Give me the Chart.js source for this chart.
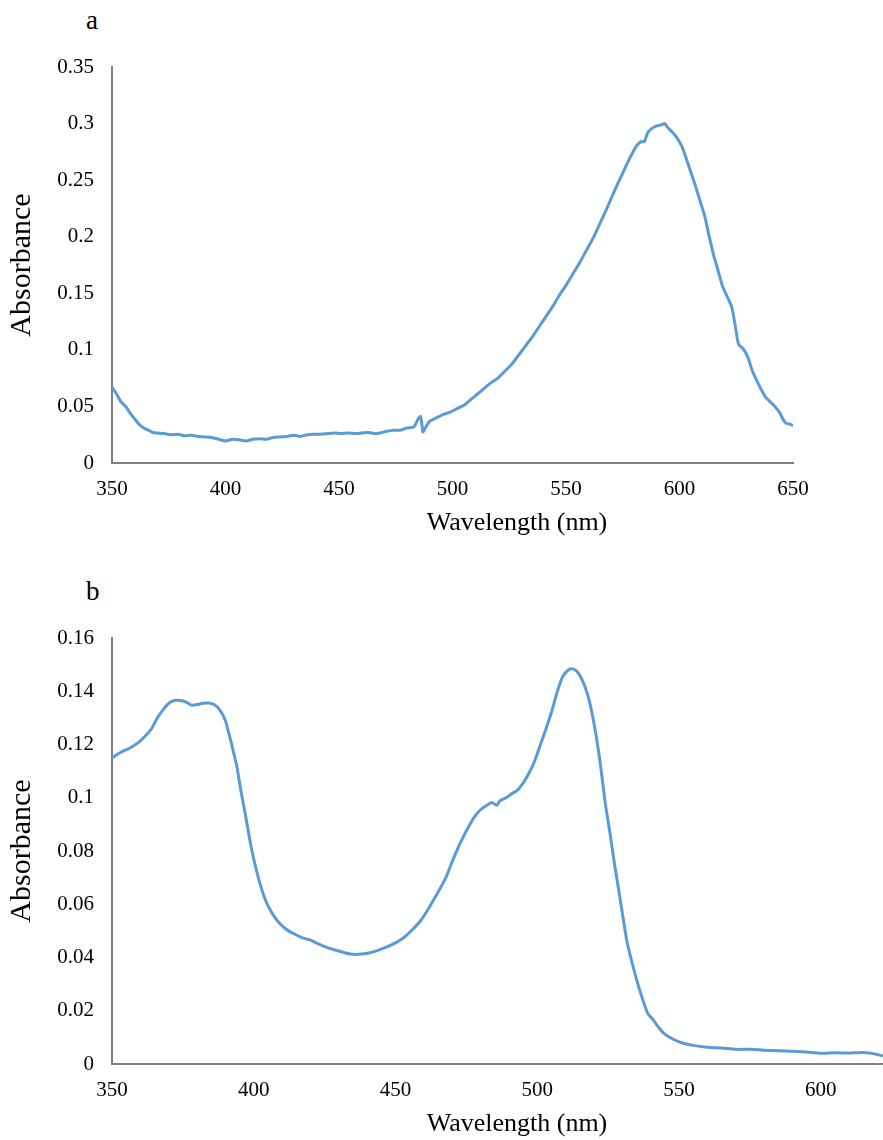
<!DOCTYPE html>
<html>
<head>
<meta charset="utf-8">
<script src="https://cdn.jsdelivr.net/npm/chart.js@4.4.1/dist/chart.umd.min.js"></script>
<style>
  body { margin: 0; width: 883px; height: 1140px; overflow: hidden; background: #fff; font-family: 'Liberation Serif', serif; }
  .panel-label { position: absolute; left: 86px; font-size: 27px; line-height: 27px; color: #000; }
  canvas { position: absolute; left: 0; }
</style>
</head>
<body>
<div class="panel-label" style="top: 7px;">a</div>
<div class="panel-label" style="top: 578px;">b</div>
<canvas id="chartA" width="883" height="541" style="top: 0px;"></canvas>
<canvas id="chartB" width="883" height="572" style="top: 570px;"></canvas>
<script>
// Spectrum a
const wavelengthA = [350, 352, 354, 356, 358, 360, 362, 364, 366, 368, 370, 373, 376, 379, 382, 385, 388, 391, 394, 397,
  400, 403, 406, 409, 412, 415, 418, 421, 424, 427, 430, 433, 436, 439, 442, 445, 448, 451, 454, 457,
  460, 463, 466, 468, 471, 474, 477, 480, 483, 485, 486, 487, 488, 490, 493, 496, 499, 502, 505, 508,
  511, 514, 517, 520, 523, 526, 529, 532, 535, 538, 541, 544, 547, 550, 553, 556, 559, 562, 565, 568,
  571, 574, 577, 579, 581, 583, 584.5, 586, 588, 590, 592, 593.5, 595, 597, 599, 601, 603, 605, 607, 609,
  611, 613, 615, 617, 619, 621, 623, 624.5, 626, 628, 630, 632, 634, 636, 638, 640, 642, 644, 645.5, 647,
  648.5, 650];
const absorbanceA = [0.067, 0.061, 0.054, 0.050, 0.044, 0.039, 0.034, 0.031, 0.029, 0.027, 0.0265, 0.026, 0.025, 0.0255, 0.024, 0.0245, 0.0235, 0.023, 0.0225, 0.021,
  0.0195, 0.021, 0.0205, 0.0195, 0.021, 0.0215, 0.021, 0.0225, 0.023, 0.0235, 0.0245, 0.0235, 0.025, 0.0255, 0.0255, 0.026, 0.0265, 0.026, 0.0265, 0.026,
  0.0265, 0.027, 0.026, 0.0265, 0.028, 0.029, 0.029, 0.031, 0.032, 0.0395, 0.041, 0.0275, 0.031, 0.037, 0.040, 0.043, 0.045, 0.048, 0.051, 0.056,
  0.061, 0.066, 0.071, 0.075, 0.081, 0.087, 0.095, 0.103, 0.111, 0.120, 0.129, 0.138, 0.148, 0.157, 0.167, 0.177, 0.188, 0.199, 0.212, 0.225,
  0.239, 0.252, 0.265, 0.273, 0.280, 0.284, 0.284, 0.292, 0.296, 0.298, 0.299, 0.300, 0.296, 0.292, 0.287, 0.280, 0.269, 0.257, 0.245, 0.232,
  0.219, 0.201, 0.184, 0.170, 0.156, 0.147, 0.138, 0.122, 0.105, 0.101, 0.094, 0.082, 0.073, 0.065, 0.058, 0.054, 0.050, 0.045, 0.039, 0.035,
  0.0345, 0.033];
const xTicksA = [350, 400, 450, 500, 550, 600, 650];
const yTicksA = [0, 0.05, 0.1, 0.15, 0.2, 0.25, 0.3, 0.35];

// Spectrum b
const wavelengthB = [350, 353, 356, 359, 362, 364, 366, 368, 370, 372, 374, 376, 378, 380, 382, 384, 386, 388, 390, 391,
  392, 393, 394, 395.5, 397, 399, 401, 403, 405, 408, 411, 414, 417, 420, 423, 426, 429, 432, 435, 438,
  441, 444, 447, 450, 453, 456, 459, 462, 465, 468, 470, 472, 474, 476, 478, 480, 482, 484, 485.7, 487,
  489, 491, 493, 495, 497, 499, 501, 503, 505, 507, 509, 511, 512.5, 514, 516, 518, 519.5, 521, 522.5, 524,
  525.5, 527, 528.5, 530, 531.5, 533, 535, 537, 539, 541, 543, 545, 548, 551, 555, 560, 565, 570, 575, 580,
  585, 590, 595, 600, 605, 610, 615, 620, 622];
const absorbanceB = [0.115, 0.117, 0.1185, 0.1205, 0.1235, 0.126, 0.130, 0.133, 0.1355, 0.1365, 0.1365, 0.136, 0.1348, 0.135, 0.1355, 0.1356, 0.135, 0.133, 0.129, 0.125,
  0.121, 0.1165, 0.112, 0.1025, 0.094, 0.082, 0.0725, 0.065, 0.0595, 0.0542, 0.051, 0.049, 0.0475, 0.0465, 0.045, 0.0437, 0.0427, 0.0418, 0.0412, 0.0413,
  0.0418, 0.0428, 0.044, 0.0455, 0.0475, 0.0505, 0.054, 0.059, 0.0645, 0.0705, 0.076, 0.081, 0.0855, 0.0895, 0.093, 0.0955, 0.097, 0.0982, 0.0972, 0.099,
  0.100, 0.1015, 0.1028, 0.1055, 0.109, 0.1135, 0.1195, 0.1255, 0.132, 0.1395, 0.1455, 0.148, 0.1484, 0.1475, 0.144, 0.138, 0.131, 0.122, 0.111, 0.098,
  0.088, 0.077, 0.067, 0.057, 0.047, 0.040, 0.032, 0.025, 0.019, 0.0165, 0.0135, 0.0112, 0.0093, 0.008, 0.007, 0.0063, 0.006, 0.0055, 0.0055, 0.0052,
  0.005, 0.0048, 0.0045, 0.004, 0.0042, 0.0041, 0.0043, 0.0036, 0.003];
const xTicksB = [350, 400, 450, 500, 550, 600];
const yTicksB = [0, 0.02, 0.04, 0.06, 0.08, 0.1, 0.12, 0.14, 0.16];

const fontFamily = "'Liberation Serif', 'Times New Roman', serif";
const lineColor = '#5b9bd5';
const axisColor = '#808080';

// x title sits right of the axis centre in the original, so draw it by hand
const xTitlePlugin = {
  id: 'xTitle',
  afterDraw(chart, args, opts) {
    const { ctx, chartArea } = chart;
    ctx.save();
    ctx.font = '26px ' + fontFamily;
    ctx.fillStyle = '#000';
    ctx.textAlign = 'center';
    ctx.textBaseline = 'middle';
    ctx.fillText(opts.text, chartArea.left + 405, chartArea.bottom + 60);
    ctx.restore();
  }
};

function makeSpectrum(canvasId, wl, abs, xTicks, yTicks, xMax, padTop, padRight) {
  const ctx = document.getElementById(canvasId).getContext('2d');
  return new Chart(ctx, {
    type: 'line',
    data: {
      datasets: [{
        data: wl.map((w, i) => ({ x: w, y: abs[i] })),
        borderColor: lineColor,
        borderWidth: 3,
        pointRadius: 0,
        tension: 0.2,
        fill: false
      }]
    },
    plugins: [xTitlePlugin],
    options: {
      responsive: false,
      animation: false,
      layout: { padding: { top: padTop, right: padRight, left: 0, bottom: 0 } },
      plugins: {
        legend: { display: false },
        tooltip: { enabled: false },
        xTitle: { text: 'Wavelength (nm)' }
      },
      scales: {
        x: {
          type: 'linear',
          min: xTicks[0],
          max: xMax,
          grid: { display: false, drawTicks: false },
          border: { display: true, color: axisColor, width: 2 },
          ticks: { color: '#000', font: { family: fontFamily, size: 21 }, padding: 14, maxRotation: 0 },
          afterBuildTicks: (scale) => { scale.ticks = xTicks.map(v => ({ value: v })); },
          afterFit: (scale) => { scale.height = 78; }
        },
        y: {
          min: 0,
          max: yTicks[yTicks.length - 1],
          grid: { display: false, drawTicks: false },
          border: { display: true, color: axisColor, width: 2 },
          ticks: {
            color: '#000',
            font: { family: fontFamily, size: 21 },
            padding: 18,
            callback: (v) => String(+Number(v).toFixed(2))
          },
          afterBuildTicks: (scale) => { scale.ticks = yTicks.map(v => ({ value: v })); },
          afterFit: (scale) => { scale.width = 112; },
          title: {
            display: true,
            text: 'Absorbance',
            color: '#000',
            font: { family: fontFamily, size: 30 },
            padding: { top: 4, bottom: 0 }
          }
        }
      }
    }
  });
}

document.addEventListener('DOMContentLoaded', function () {
  makeSpectrum('chartA', wavelengthA, absorbanceA, xTicksA, yTicksA, 650, 67, 90);
  makeSpectrum('chartB', wavelengthB, absorbanceB, xTicksB, yTicksB, 622, 68, 0);
});
</script>
</body>
</html>
